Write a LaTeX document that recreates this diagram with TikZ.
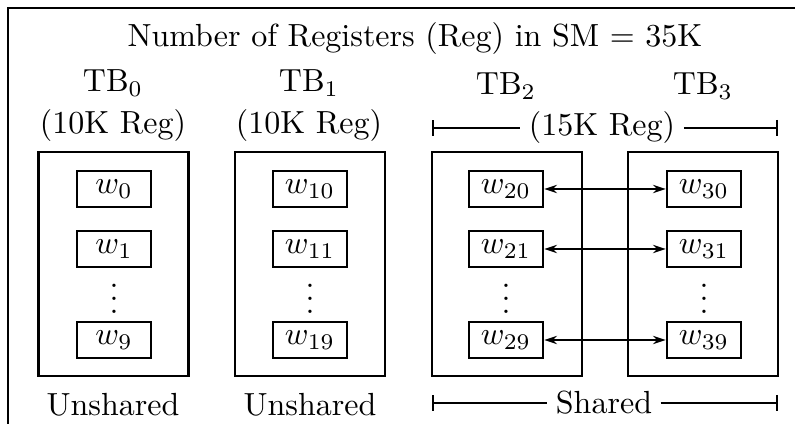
\documentclass[tikz,border=0pt]{standalone}
\usetikzlibrary{arrows.meta}
% vertical dots without the extra space above them
\newcommand\stackdots{\vbox{\baselineskip4pt\lineskiplimit0pt\hbox{.}\hbox{.}\hbox{.}}}
\begin{document}
\begin{tikzpicture}[x=0.3125pt,y=-0.3125pt,
  every node/.style={font=\fontsize{10}{12}\selectfont},
  lbl/.style={anchor=base,inner sep=0pt},
  tbbox/.style={draw,line width=0.85pt,minimum width=46.9pt,minimum height=70pt,inner sep=0pt},
  wbox/.style={draw,line width=0.8pt,minimum width=23.1pt,minimum height=11.25pt,inner sep=0pt},
  dots/.style={inner sep=0pt},
  link/.style={{Stealth[length=4pt,width=2.6pt]}-{Stealth[length=4pt,width=2.6pt]},line width=0.6pt},
  span/.style={line width=0.6pt},
  spantext/.style={inner sep=2.5pt}]
\useasboundingbox (0,0) rectangle (795,424);
% outer frame (runs past the page on the right and bottom)
\begin{scope}
  \clip (0,0) rectangle (795,424);
  \draw[line width=0.9pt] (8,8) rectangle (830,450);
\end{scope}

\node[lbl] (title) at (415,47) {Number of Registers (Reg) in SM $=$ 35K};

% thread block headings
\node[lbl] (tb0) at (113,92) {TB$_0$};
\node[lbl] (tb1) at (309,92) {TB$_1$};
\node[lbl] (tb2) at (506,95) {TB$_2$};
\node[lbl] (tb3) at (703,95) {TB$_3$};
\node[lbl] (reg0) at (113,134) {(10K Reg)};
\node[lbl] (reg1) at (309,134) {(10K Reg)};

% thread block boxes
\node[tbbox] (b0) at (113.5,264) {};
\node[tbbox] (b1) at (310,264) {};
\node[tbbox] (b2) at (507,264) {};
\node[tbbox] (b3) at (703,264) {};

% warps
\node[wbox] (w0) at (114,189) {$w_{0}$};
\node[wbox] (w1) at (114,249) {$w_{1}$};
\node[dots] (d0) at (114,299) {\stackdots};
\node[wbox] (w9) at (114,340) {$w_{9}$};

\node[wbox] (w10) at (310,189) {$w_{10}$};
\node[wbox] (w11) at (310,249) {$w_{11}$};
\node[dots] (d1) at (310,299) {\stackdots};
\node[wbox] (w19) at (310,340) {$w_{19}$};

\node[wbox] (w20) at (506,189) {$w_{20}$};
\node[wbox] (w21) at (506,249) {$w_{21}$};
\node[dots] (d2) at (506,299) {\stackdots};
\node[wbox] (w29) at (506,340) {$w_{29}$};

\node[wbox] (w30) at (704,189) {$w_{30}$};
\node[wbox] (w31) at (704,249) {$w_{31}$};
\node[dots] (d3) at (704,299) {\stackdots};
\node[wbox] (w39) at (704,340) {$w_{39}$};

% register sharing between TB2 and TB3
\draw[link] (w20) -- (w30);
\draw[link] (w21) -- (w31);
\draw[link] (w29) -- (w39);

% shared register span
\node[spantext] (reg23) at (602,128) {(15K Reg)};
\coordinate (r23l) at (432,128);
\coordinate (r23r) at (778,128);
\draw[span,{Bar[width=5pt]}-] (r23l) -- (reg23.west);
\draw[span,-{Bar[width=5pt]}] (reg23.east) -- (r23r);

% sharing labels
\node[lbl] (u0) at (113,416) {Unshared};
\node[lbl] (u1) at (310,416) {Unshared};
\node[spantext] (sh) at (604,403) {Shared};
\coordinate (shl) at (432,403);
\coordinate (shr) at (778,403);
\draw[span,{Bar[width=5pt]}-] (shl) -- (sh.west);
\draw[span,-{Bar[width=5pt]}] (sh.east) -- (shr);
\end{tikzpicture}
\end{document}
